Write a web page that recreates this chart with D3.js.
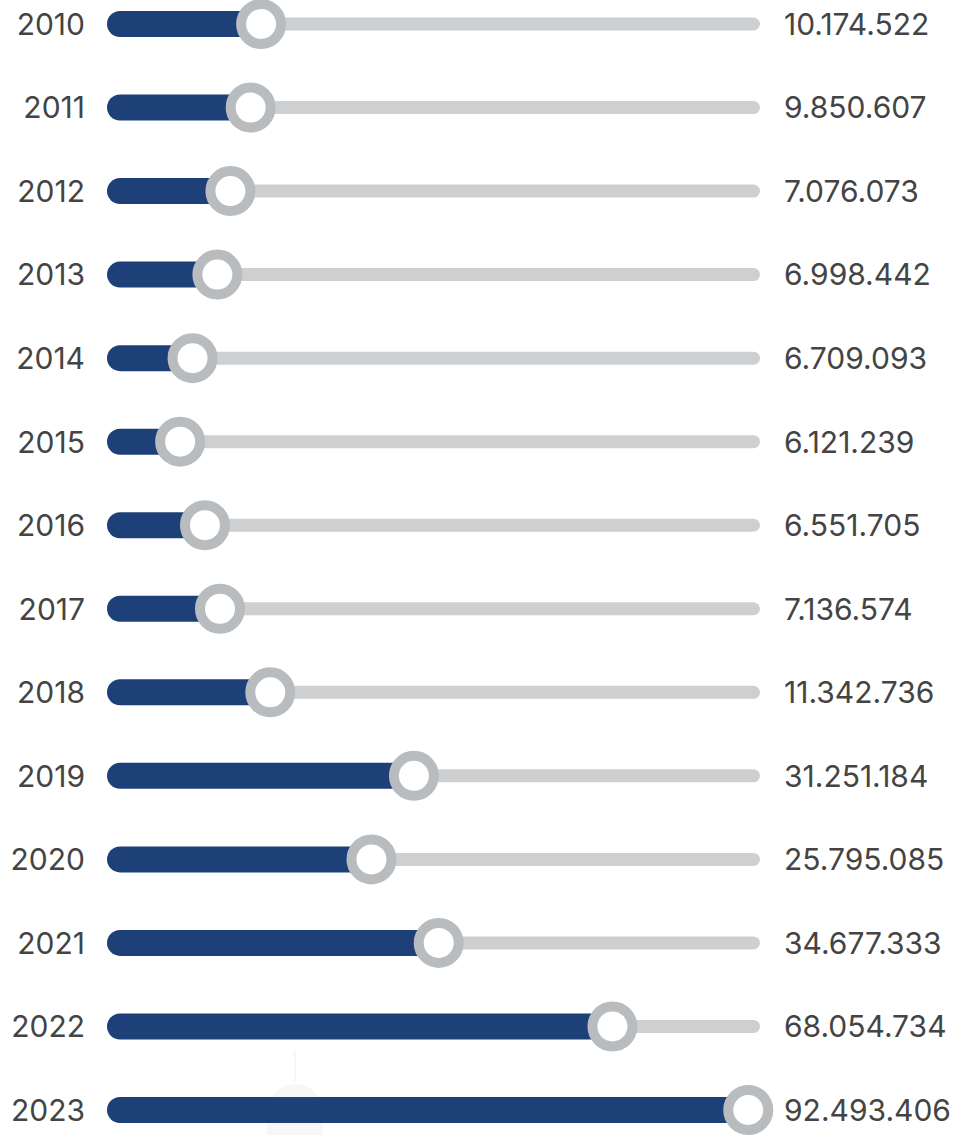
<!DOCTYPE html>
<html>
<head>
<meta charset="utf-8">
<script src="https://cdn.jsdelivr.net/npm/d3@7"></script>
<style>
  body { margin: 0; background: #fff; }
  text { font-family: Inter, "Open Sans", sans-serif; fill: #444; }
</style>
</head>
<body>
<div id="chart"></div>
<script>
var years = ["2010","2011","2012","2013","2014","2015","2016","2017","2018","2019","2020","2021","2022","2023"];
var labels = ["10.174.522","9.850.607","7.076.073","6.998.442","6.709.093","6.121.239","6.551.705","7.136.574","11.342.736","31.251.184","25.795.085","34.677.333","68.054.734","92.493.406"];
// slider fill (% of track) as drawn in the infographic
var fill = [23.6, 22.0, 18.9, 16.9, 13.1, 11.2, 15.0, 17.3, 25.0, 47.0, 40.5, 50.8, 77.4, 98.2];

var width = 966, height = 1135;

var svg = d3.select("#chart").append("svg")
  .attr("width", width)
  .attr("height", height);

// faint watermark at the bottom
var wm = svg.append("g").attr("fill", "#f7f7f7");
wm.append("rect").attr("x", 294).attr("y", 1050).attr("width", 2).attr("height", 32);
wm.append("path").attr("d", "M267,1112 A28,28 0 0 1 323,1112 L323,1135 L267,1135 Z");

var x = d3.scaleLinear().domain([0, 100]).range([107, 760]);
var y = d3.scalePoint().domain(years).range([24, 1110]);

var rows = svg.selectAll("g.row")
  .data(years)
  .enter()
  .append("g")
  .attr("class", "row")
  .attr("transform", function(d){ return "translate(0," + y(d) + ")"; });

// gray track
rows.append("line")
  .attr("x1", x(0) + 6.5)
  .attr("x2", x(100) - 6.5)
  .attr("stroke", "#cdcfd1")
  .attr("stroke-width", 13)
  .attr("stroke-linecap", "round");

// blue bar
rows.append("line")
  .attr("x1", x(0) + 13)
  .attr("x2", function(d, i){ return x(fill[i]); })
  .attr("stroke", "#1e4079")
  .attr("stroke-width", 26)
  .attr("stroke-linecap", "round");

// knob
rows.append("circle")
  .attr("cx", function(d, i){ return x(fill[i]); })
  .attr("r", 20)
  .attr("fill", "#fff")
  .attr("stroke", "#b9bcbf")
  .attr("stroke-width", 10);

rows.append("text")
  .attr("x", 85)
  .attr("dy", "0.36em")
  .attr("text-anchor", "end")
  .style("font-size", "30px")
  .text(function(d){ return d; });

rows.append("text")
  .attr("x", 784)
  .attr("dy", "0.36em")
  .style("font-size", "30px")
  .text(function(d, i){ return labels[i]; });
</script>
</body>
</html>
